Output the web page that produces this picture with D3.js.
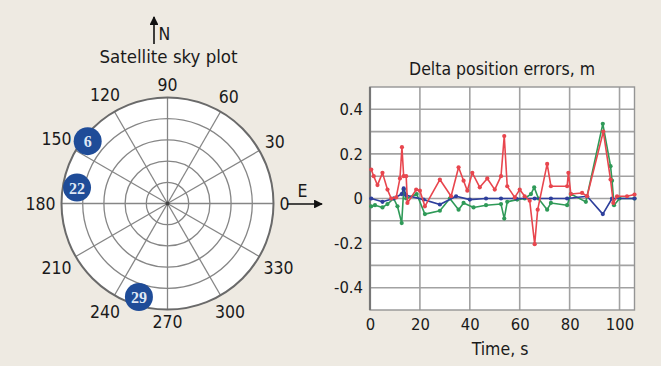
<!DOCTYPE html>
<html>
<head>
<meta charset="utf-8">
<script src="https://cdn.jsdelivr.net/npm/d3@7/dist/d3.min.js"></script>
<style>
  html, body { margin: 0; padding: 0; background: #eeeae2; }
  svg { display: block; }
  text { font-family: "DejaVu Sans Condensed", "Liberation Sans Narrow", "Roboto", sans-serif; fill: #1a1a1a; }
</style>
</head>
<body>
<svg id="chart" width="661" height="366"></svg>
<script>
// ---- Sky plot data ----
const azimuthTicks = [0, 30, 60, 90, 120, 150, 180, 210, 240, 270, 300, 330];
const satelliteIds = ["6", "22", "29"];
const satelliteAzimuth = [142, 170, 253];   // degrees, counter-clockwise from E
const satelliteElevation = [4, 12, 7];      // degrees above horizon

// ---- Delta position error data: [time s, error m] ----
const redSeries = [
  [0.5, 0.13], [1.5, 0.10], [3, 0.06], [5, 0.115], [7, 0.04], [8.5, 0.0],
  [10.5, 0.005], [12, 0.09], [12.8, 0.23], [13.5, 0.10], [14.5, 0.10], [15, -0.02],
  [18.5, 0.04], [20, 0.035], [22, -0.035], [28, 0.085], [32.5, 0.01], [35.5, 0.14],
  [37.5, 0.08], [39, 0.035], [41, 0.115], [44, 0.05], [47, 0.09], [50, 0.04],
  [52.5, 0.10], [53.8, 0.28], [55, 0.055], [58, 0.005], [60, 0.04], [62, 0.01],
  [64, -0.01], [66, -0.205], [67.2, -0.05], [71, 0.155], [72.5, 0.055], [79, 0.055],
  [79.5, 0.115], [80.5, 0.02], [85, 0.025], [87, 0.01], [93.5, 0.30], [96.4, 0.085],
  [97.5, -0.02], [99, 0.01], [103, 0.01], [106, 0.018]
];
const greenSeries = [
  [0.5, -0.035], [2, -0.03], [5, -0.04], [7, -0.025], [9.5, 0.0], [11, -0.035],
  [12.7, -0.11], [13.5, 0.04], [14.5, 0.0], [18.7, 0.02], [22, -0.07], [28, -0.055],
  [32, 0.0], [35.5, -0.05], [37.5, -0.02], [41.5, -0.04], [46.5, -0.03], [52.5, -0.025],
  [53.8, -0.09], [55, -0.015], [59, -0.005], [62, 0.0], [64.5, 0.02], [65.8, 0.05],
  [67.5, 0.0], [71, -0.05], [72.5, -0.02], [79, -0.03], [80.5, 0.02], [86.5, -0.015],
  [93.3, 0.335], [96.4, 0.145], [97, 0.08], [97.8, -0.03], [100, 0.0], [106, 0.0]
];
const blueSeries = [
  [0.5, 0.0], [5, -0.015], [9.5, 0.0], [12.7, 0.02], [13.5, 0.045], [14.5, 0.015],
  [21.5, -0.005], [28, -0.027], [34.5, 0.01], [40, -0.005], [46.5, 0.0], [52.5, 0.0],
  [58.5, 0.0], [66, 0.0], [72.5, 0.0], [79, 0.0], [87, 0.01], [93.3, -0.07],
  [97, 0.0], [106, 0.0]
];
const timeTicks = [0, 20, 40, 60, 80, 100];
const errorTicks = [-0.4, -0.2, 0, 0.2, 0.4];
const errorGrid = [-0.4, -0.3, -0.2, -0.1, 0, 0.1, 0.2, 0.3, 0.4];

const svg = d3.select("#chart");

// ================= Sky plot =================
const cx = 167.5, cy = 203.5, R = 106;
const sky = svg.append("g").attr("transform", `translate(${cx},${cy})`);
const rScale = d3.scaleLinear().domain([90, 0]).range([0, R]);
const toXY = (azDeg, r) => {
  const a = azDeg * Math.PI / 180;
  return [r * Math.cos(a), -r * Math.sin(a)];
};

sky.append("circle").attr("r", R).attr("fill", "#ffffff");

// elevation rings
[72, 54, 36, 18].forEach(el => {
  sky.append("circle").attr("r", rScale(el))
    .attr("fill", "none").attr("stroke", "#868686").attr("stroke-width", 1.3);
});
// azimuth spokes
azimuthTicks.forEach(az => {
  const [x, y] = toXY(az, R);
  sky.append("line").attr("x1", 0).attr("y1", 0).attr("x2", x).attr("y2", y)
    .attr("stroke", "#868686").attr("stroke-width", 1.3);
});
sky.append("circle").attr("r", R)
  .attr("fill", "none").attr("stroke", "#6a6a6a").attr("stroke-width", 2);
sky.append("circle").attr("r", 2).attr("fill", "#444");

// azimuth labels around the rim
azimuthTicks.forEach(az => {
  const t = sky.append("text").text(az)
    .attr("font-size", 17.5).attr("text-anchor", "middle")
    .attr("dominant-baseline", "central");
  const w = t.node().getComputedTextLength();
  const a = az * Math.PI / 180;
  const rl = 112 + (w / 2) * Math.abs(Math.cos(a)) + 6.5 * Math.abs(Math.sin(a));
  const [x, y] = toXY(az, rl);
  t.attr("x", x).attr("y", y);
});

// satellites
satelliteIds.forEach((id, i) => {
  const [x, y] = toXY(satelliteAzimuth[i], rScale(satelliteElevation[i]));
  const g = sky.append("g").attr("transform", `translate(${x},${y})`);
  g.append("circle").attr("r", 14).attr("fill", "#1f4c98");
  g.append("text").text(id)
    .attr("text-anchor", "middle").attr("dominant-baseline", "central")
    .attr("y", 0.5)
    .style("font-family", "'Liberation Serif', 'DejaVu Serif', serif")
    .style("font-weight", "bold").attr("font-size", 16)
    .style("fill", "#dfe8f5");
});

// title and compass arrows
svg.append("text").text("Satellite sky plot")
  .attr("x", 168.5).attr("y", 63).attr("text-anchor", "middle").attr("font-size", 18.5);

const defs = svg.append("defs");
defs.append("marker").attr("id", "arrowhead")
  .attr("viewBox", "0 0 10 10").attr("refX", 9).attr("refY", 5)
  .attr("markerWidth", 5.5).attr("markerHeight", 5.5).attr("orient", "auto")
  .append("path").attr("d", "M0,0 L10,5 L0,10 z").attr("fill", "#111");

svg.append("line").attr("x1", 154).attr("y1", 44).attr("x2", 154).attr("y2", 17)
  .attr("stroke", "#111").attr("stroke-width", 1.6).attr("marker-end", "url(#arrowhead)");
svg.append("text").text("N").attr("x", 158.5).attr("y", 40).attr("font-size", 17.5);

svg.append("line").attr("x1", 287).attr("y1", 204).attr("x2", 322).attr("y2", 204)
  .attr("stroke", "#111").attr("stroke-width", 1.6).attr("marker-end", "url(#arrowhead)");
svg.append("text").text("E").attr("x", 302.5).attr("y", 197)
  .attr("text-anchor", "middle").attr("font-size", 17.5);

// ================= Delta position errors =================
const px0 = 370, px1 = 634.5, py0 = 87, py1 = 310;
const x = d3.scaleLinear().domain([0, 106]).range([px0, px1]);
const y = d3.scaleLinear().domain([-0.5, 0.5]).range([py1, py0]);

const plot = svg.append("g");
plot.append("rect").attr("x", px0).attr("y", py0)
  .attr("width", px1 - px0).attr("height", py1 - py0).attr("fill", "#ffffff");

// grid
plot.append("g").selectAll("line").data(errorGrid).join("line")
  .attr("x1", px0).attr("x2", px1).attr("y1", d => y(d)).attr("y2", d => y(d))
  .attr("stroke", "#a2a2a2").attr("stroke-width", 1.6);
plot.append("g").selectAll("line").data(timeTicks.filter(d => d > 0)).join("line")
  .attr("x1", d => x(d)).attr("x2", d => x(d)).attr("y1", py0).attr("y2", py1)
  .attr("stroke", "#a2a2a2").attr("stroke-width", 1.6);

// frame
plot.append("rect").attr("x", px0).attr("y", py0)
  .attr("width", px1 - px0).attr("height", py1 - py0)
  .attr("fill", "none").attr("stroke", "#959595").attr("stroke-width", 1.4);
plot.append("line").attr("x1", px0).attr("x2", px0).attr("y1", py0).attr("y2", py1)
  .attr("stroke", "#777").attr("stroke-width", 2.2);

// axes (labels only)
const yAxis = d3.axisLeft(y).tickValues(errorTicks).tickSize(0).tickPadding(7)
  .tickFormat(d => d === 0 ? "0" : d3.format(".1f")(d).replace("\u2212", "-"));
const gy = svg.append("g").attr("transform", `translate(${px0},0)`).call(yAxis);
gy.select(".domain").remove();
gy.selectAll("text").attr("font-size", 16.5).style("font-family", null).attr("fill", "#1a1a1a");

const xAxis = d3.axisBottom(x).tickValues(timeTicks).tickSize(0).tickPadding(8);
const gx = svg.append("g").attr("transform", `translate(0,${py1})`).call(xAxis);
gx.select(".domain").remove();
gx.selectAll("text").attr("font-size", 16.5).style("font-family", null).attr("fill", "#1a1a1a");

svg.append("text").text("Delta position errors, m")
  .attr("x", 502).attr("y", 75).attr("text-anchor", "middle").attr("font-size", 17.5);
svg.append("text").text("Time, s")
  .attr("x", 500).attr("y", 355).attr("text-anchor", "middle").attr("font-size", 17.5);

// series
const line = d3.line().x(d => x(d[0])).y(d => y(d[1]));
const seriesList = [
  { data: greenSeries, color: "#2f9a58" },
  { data: blueSeries, color: "#2e3f9c" },
  { data: redSeries, color: "#e8464e" }
];
seriesList.forEach(s => {
  plot.append("path").datum(s.data).attr("d", line)
    .attr("fill", "none").attr("stroke", s.color).attr("stroke-width", 1.6)
    .attr("stroke-linejoin", "round");
  plot.append("g").selectAll("circle").data(s.data).join("circle")
    .attr("cx", d => x(d[0])).attr("cy", d => y(d[1])).attr("r", 2.1)
    .attr("fill", s.color);
});
</script>
</body>
</html>
